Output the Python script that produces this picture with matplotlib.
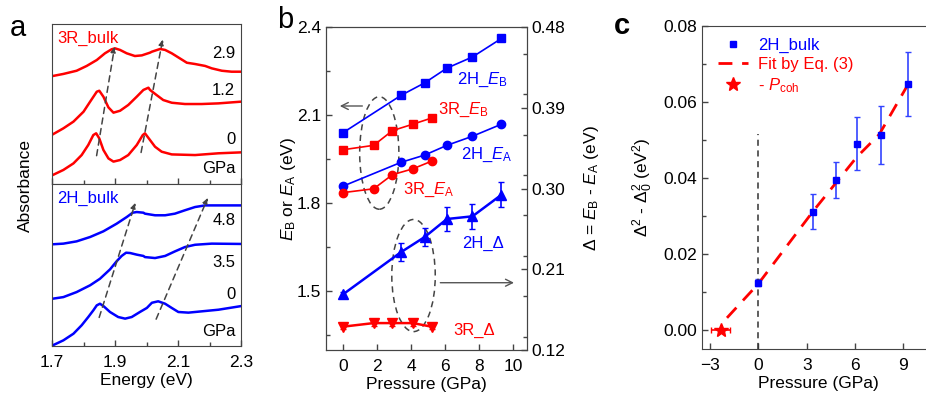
import matplotlib
matplotlib.use('Agg')
import matplotlib.pyplot as plt
from matplotlib.patches import Ellipse
from matplotlib.lines import Line2D
from matplotlib.ticker import MultipleLocator, FormatStrFormatter

plt.rcParams['font.family'] = ['Liberation Sans', 'DejaVu Sans']
plt.rcParams['mathtext.fontset'] = 'custom'
plt.rcParams['mathtext.rm'] = 'Liberation Sans'
plt.rcParams['mathtext.it'] = 'Liberation Sans:italic'
plt.rcParams['font.size'] = 12.5
plt.rcParams['axes.edgecolor'] = '#444444'

BLUE = '#0000ff'
RED = '#ff0000'

# ---------------- panel a: absorbance spectra ----------------
e_3r_29 = [1.702, 1.736, 1.778, 1.810, 1.842, 1.868, 1.889, 1.900, 1.916, 1.937, 1.963, 1.985,
           2.011, 2.017, 2.043, 2.059, 2.080, 2.106, 2.128, 2.154, 2.186, 2.207, 2.239, 2.270, 2.302]
a_3r_29 = [0.675, 0.688, 0.708, 0.738, 0.775, 0.817, 0.842, 0.848, 0.838, 0.817, 0.800, 0.804,
           0.821, 0.827, 0.844, 0.838, 0.817, 0.785, 0.758, 0.750, 0.738, 0.723, 0.708, 0.702, 0.702]
e_3r_12 = [1.702, 1.736, 1.768, 1.800, 1.821, 1.842, 1.850, 1.863, 1.879, 1.895, 1.916, 1.942,
           1.969, 1.990, 2.006, 2.011, 2.032, 2.053, 2.080, 2.122, 2.175, 2.228, 2.302]
a_3r_12 = [0.310, 0.348, 0.390, 0.452, 0.515, 0.577, 0.583, 0.546, 0.479, 0.446, 0.458, 0.494,
           0.546, 0.588, 0.602, 0.588, 0.556, 0.525, 0.508, 0.500, 0.500, 0.504, 0.515]
e_3r_0 = [1.702, 1.736, 1.768, 1.794, 1.815, 1.831, 1.840, 1.850, 1.863, 1.879, 1.895, 1.916,
          1.942, 1.969, 1.988, 1.995, 2.011, 2.027, 2.048, 2.080, 2.154, 2.228, 2.302]
a_3r_0 = [0.056, 0.088, 0.129, 0.181, 0.244, 0.306, 0.317, 0.285, 0.213, 0.160, 0.140, 0.150,
          0.181, 0.244, 0.306, 0.317, 0.275, 0.233, 0.202, 0.185, 0.181, 0.192, 0.198]

e_2h_48 = [1.702, 1.736, 1.778, 1.821, 1.863, 1.905, 1.937, 1.956, 1.969, 1.990, 1.995, 2.027,
           2.059, 2.090, 2.122, 2.154, 2.186, 2.228, 2.302]
a_2h_48 = [0.628, 0.632, 0.646, 0.673, 0.708, 0.755, 0.796, 0.823, 0.827, 0.823, 0.817, 0.807,
           0.807, 0.817, 0.838, 0.858, 0.868, 0.868, 0.868]
e_2h_35 = [1.702, 1.736, 1.778, 1.821, 1.852, 1.884, 1.905, 1.921, 1.935, 1.948, 1.969, 1.990,
           1.995, 2.027, 2.059, 2.090, 2.122, 2.154, 2.207, 2.302]
a_2h_35 = [0.292, 0.302, 0.333, 0.375, 0.415, 0.473, 0.523, 0.556, 0.576, 0.574, 0.564, 0.556,
           0.549, 0.543, 0.556, 0.584, 0.611, 0.625, 0.632, 0.630]
e_2h_0 = [1.702, 1.736, 1.768, 1.794, 1.815, 1.831, 1.842, 1.852, 1.863, 1.884, 1.910, 1.932,
          1.953, 1.979, 2.001, 2.017, 2.037, 2.059, 2.080, 2.101, 2.133, 2.175, 2.228, 2.302]
a_2h_0 = [0.004, 0.035, 0.076, 0.128, 0.179, 0.220, 0.251, 0.261, 0.247, 0.210, 0.179, 0.169,
          0.179, 0.210, 0.235, 0.267, 0.276, 0.261, 0.235, 0.210, 0.206, 0.214, 0.224, 0.247]

# peak-shift guide arrows (start -> end), energy / absorbance units
arrows_3r = [((1.840, 0.16), (1.900, 0.875)), ((1.981, 0.18), (2.053, 0.92))]
arrows_2h = [((1.847, 0.16), (1.967, 0.90)), ((2.027, 0.15), (2.198, 0.93))]

# ---------------- panel b: exciton energies vs pressure ----------------
p_2h = [0, 3.4, 4.8, 6.1, 7.6, 9.3]
eb_2h = [2.040, 2.167, 2.210, 2.260, 2.298, 2.361]
ea_2h = [1.858, 1.939, 1.964, 1.997, 2.028, 2.069]
d_2h = [0.182, 0.229, 0.246, 0.266, 0.269, 0.293]
d_2h_err = [0.003, 0.010, 0.010, 0.013, 0.014, 0.014]

p_3r = [0, 1.8, 2.9, 4.1, 5.2]
eb_3r = [1.982, 1.997, 2.047, 2.069, 2.090]
ea_3r = [1.836, 1.849, 1.897, 1.917, 1.943]
d_3r = [0.146, 0.150, 0.150, 0.150, 0.146]
d_3r_err = [0.003, 0.003, 0.003, 0.003, 0.003]

# ---------------- panel c: delta^2 - delta0^2 ----------------
p_c = [0, 3.4, 4.8, 6.1, 7.6, 9.3]
dd_c = [0.0125, 0.0311, 0.0394, 0.0490, 0.0513, 0.0647]
dd_err = [0.0010, 0.0046, 0.0047, 0.0070, 0.0077, 0.0084]
fit_p = [-1.95, 0, 3.4, 6.1, 7.5, 9.4]
fit_dd = [0.0032, 0.0122, 0.0313, 0.0455, 0.0515, 0.0655]
p_coh = -2.35
p_coh_err = 0.6

fig = plt.figure(figsize=(9.26, 3.99), dpi=100)


def style_ticks(ax, **kw):
    ax.tick_params(which='both', direction='in', width=1, color='#444444', **kw)
    ax.tick_params(which='major', length=4)
    ax.tick_params(which='minor', length=3)
    ax.tick_params(axis='x', pad=6.5)


# ===== panel a =====
ax_a1 = fig.add_axes([0.0562, 0.5388, 0.2041, 0.401])
ax_a2 = fig.add_axes([0.0562, 0.1328, 0.2041, 0.406])

ax_a1.plot(e_3r_29, a_3r_29, color=RED, lw=1.8)
ax_a1.plot(e_3r_12, a_3r_12, color=RED, lw=1.8)
ax_a1.plot(e_3r_0, a_3r_0, color=RED, lw=1.8)
ax_a2.plot(e_2h_48, a_2h_48, color=BLUE, lw=1.8)
ax_a2.plot(e_2h_35, a_2h_35, color=BLUE, lw=1.8)
ax_a2.plot(e_2h_0, a_2h_0, color=BLUE, lw=1.8)

for ax, arrs in ((ax_a1, arrows_3r), (ax_a2, arrows_2h)):
    for start, end in arrs:
        ax.annotate('', xy=end, xytext=start,
                    arrowprops=dict(arrowstyle='-|>', color='#444444', lw=1.1,
                                    linestyle=(0, (4, 3)), mutation_scale=8))

for ax in (ax_a1, ax_a2):
    ax.set_xlim(1.7, 2.3)
    ax.set_ylim(0, 1)
    ax.set_yticks([])
    ax.set_xticks([1.7, 1.9, 2.1, 2.3])
    ax.set_xticks([1.8, 2.0, 2.2], minor=True)
    ax.xaxis.set_major_formatter(FormatStrFormatter('%.1f'))
    style_ticks(ax)
ax_a1.tick_params(labelbottom=False)
ax_a2.set_xlabel('Energy (eV)', labelpad=2)

ax_a1.text(0.026, 0.91, '3R_bulk', color=RED, transform=ax_a1.transAxes, ha='left', va='center', fontsize=12)
for lab, y in (('2.9', 0.817), ('1.2', 0.583), ('0', 0.281), ('GPa', 0.094)):
    ax_a1.text(0.97, y, lab, transform=ax_a1.transAxes, ha='right', va='center', fontsize=12)
ax_a2.text(0.026, 0.909, '2H_bulk', color=BLUE, transform=ax_a2.transAxes, ha='left', va='center', fontsize=12)
for lab, y in (('4.8', 0.772), ('3.5', 0.514), ('0', 0.319), ('GPa', 0.09)):
    ax_a2.text(0.97, y, lab, transform=ax_a2.transAxes, ha='right', va='center', fontsize=12)

fig.text(0.028, 0.536, 'Absorbance', rotation=90, ha='center', va='center', fontsize=12.5)
fig.text(0.019, 0.93, 'a', fontsize=21, ha='center', va='center')

# ===== panel b =====
ax_b = fig.add_axes([0.352, 0.1228, 0.2171, 0.8095])
ax_b2 = ax_b.twinx()

ax_b.plot(p_2h, eb_2h, '-s', color=BLUE, lw=1.2, ms=5.5)
ax_b.plot(p_3r, eb_3r, '-s', color=RED, lw=1.2, ms=5.5)
ax_b.plot(p_2h, ea_2h, '-o', color=BLUE, lw=1.2, ms=6)
ax_b.plot(p_3r, ea_3r, '-o', color=RED, lw=1.2, ms=6)
ax_b2.errorbar(p_2h, d_2h, yerr=d_2h_err, fmt='-^', color=BLUE, lw=1.8, ms=6.5,
               elinewidth=1.2, capsize=2.5)
ax_b2.errorbar(p_3r, d_3r, yerr=d_3r_err, fmt='-v', color=RED, lw=1.8, ms=6.5,
               elinewidth=1.2, capsize=2.5)

ax_b.add_patch(Ellipse((2.13, 1.971), 2.3, 0.383, fill=False, ls=(0, (4, 3)), lw=1.1, ec='#444444'))
ax_b2.add_patch(Ellipse((4.14, 0.203), 2.55, 0.125, fill=False, ls=(0, (4, 3)), lw=1.1, ec='#444444'))
ax_b.annotate('', xy=(-0.35, 2.131), xytext=(1.3, 2.131),
              arrowprops=dict(arrowstyle='->', color='#555555', lw=1))
ax_b2.annotate('', xy=(10.2, 0.195), xytext=(5.55, 0.195),
               arrowprops=dict(arrowstyle='->', color='#555555', lw=1))

ax_b.text(6.7, 2.22, r'2H_$E_\mathrm{B}$', color=BLUE, ha='left', va='center', fontsize=12)
ax_b.text(5.6, 2.117, r'3R_$E_\mathrm{B}$', color=RED, ha='left', va='center', fontsize=12)
ax_b.text(6.9, 1.964, r'2H_$E_\mathrm{A}$', color=BLUE, ha='left', va='center', fontsize=12)
ax_b.text(3.5, 1.844, r'3R_$E_\mathrm{A}$', color=RED, ha='left', va='center', fontsize=12)
ax_b2.text(7.0, 0.239, '2H_Δ', color=BLUE, ha='left', va='center', fontsize=12)
ax_b2.text(6.45, 0.142, '3R_Δ', color=RED, ha='left', va='center', fontsize=12)

ax_b.set_xlim(-1, 10.8)
ax_b.set_ylim(1.3, 2.4)
ax_b2.set_ylim(0.12, 0.48)
ax_b.set_xticks([0, 2, 4, 6, 8, 10])
ax_b.set_yticks([1.5, 1.8, 2.1, 2.4])
ax_b.yaxis.set_minor_locator(MultipleLocator(0.15))
ax_b.yaxis.set_major_formatter(FormatStrFormatter('%.1f'))
ax_b2.set_yticks([0.12, 0.21, 0.30, 0.39, 0.48])
ax_b2.yaxis.set_minor_locator(MultipleLocator(0.045))
ax_b2.yaxis.set_major_formatter(FormatStrFormatter('%.2f'))
style_ticks(ax_b)
style_ticks(ax_b2)
ax_b.set_xlabel('Pressure (GPa)', labelpad=2)
ax_b.set_ylabel(r'$E_\mathrm{B}$ or $E_\mathrm{A}$ (eV)')
ax_b.yaxis.set_label_coords(-0.14, 0.5)
ax_b2.set_ylabel(r'Δ = $E_\mathrm{B}$ - $E_\mathrm{A}$ (eV)', rotation=90)
ax_b2.yaxis.set_label_coords(1.275, 0.5)
fig.text(0.308, 0.95, 'b', fontsize=21, ha='center', va='center')

# ===== panel c =====
ax_c = fig.add_axes([0.7581, 0.1253, 0.2524, 0.8095])
ax_c.errorbar(p_c, dd_c, yerr=dd_err, fmt='s', color=BLUE, ms=5, elinewidth=1.2,
              capsize=2.5, ecolor='#3344ff')
ax_c.plot(fit_p, fit_dd, color=RED, lw=2, ls=(0, (5, 3.5)))
ax_c.errorbar([p_coh], [0.0], xerr=[p_coh_err], fmt='*', color=RED, ms=10,
              elinewidth=1.2, capsize=2.5)
ax_c.axvline(0, ymin=0, ymax=(0.0515 + 0.005) / 0.085, color='#333333', lw=1.1,
             ls=(0, (4, 3)))

ax_c.set_xlim(-3.5, 11)
ax_c.set_ylim(-0.005, 0.08)
ax_c.set_xticks([-3, 0, 3, 6, 9])
ax_c.set_yticks([0, 0.02, 0.04, 0.06, 0.08])
ax_c.yaxis.set_minor_locator(MultipleLocator(0.01))
ax_c.yaxis.set_major_formatter(FormatStrFormatter('%.2f'))
style_ticks(ax_c)
ax_c.set_xlabel('Pressure (GPa)', labelpad=2)
ax_c.set_ylabel(r'Δ$^2$ - Δ$_0^2$ (eV$^2$)')
ax_c.yaxis.set_label_coords(-0.2, 0.5)

handles = [Line2D([], [], marker='s', color=BLUE, ls='none', ms=5),
           Line2D([], [], color=RED, lw=2, ls=(0, (5, 3.5))),
           Line2D([], [], marker='*', color=RED, ls='none', ms=10)]
ax_c.legend(handles, ['2H_bulk', 'Fit by Eq. (3)', r'- $P_\mathrm{coh}$'],
            loc='upper left', frameon=False, fontsize=12, labelcolor=[BLUE, RED, RED],
            handlelength=1.8, handletextpad=0.6, borderaxespad=0.3, labelspacing=0.25,
            bbox_to_anchor=(0.02, 1.0))
fig.text(0.672, 0.935, 'c', fontsize=21, ha='center', va='center', fontweight='bold')

fig.savefig('out.png', dpi=100)
